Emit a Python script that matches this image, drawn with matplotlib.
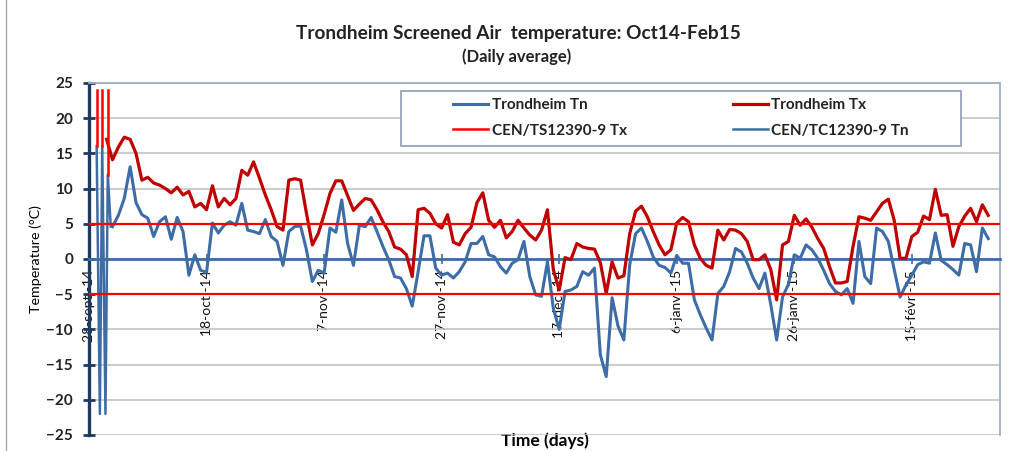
import numpy as np
import matplotlib
matplotlib.use('Agg')
import matplotlib.pyplot as plt
from matplotlib.patches import Rectangle

plt.rcParams['font.family'] = ['Lato', 'DejaVu Sans']

# days counted from 28 Sep 2014
tx_start = 3
tx_values = [17.0, 14.1, 15.9, 17.3, 17.0, 15.0, 11.2, 11.6, 10.8, 10.5,
             10.0, 9.4, 10.2, 9.1, 9.6, 7.4, 7.9, 7.0, 10.4, 7.4,
             8.6, 7.7, 8.6, 12.6, 11.9, 13.8, 11.5, 9.1, 7.0, 4.6,
             4.1, 11.2, 11.4, 11.2, 6.5, 2.0, 3.6, 6.3, 9.3, 11.1,
             11.1, 9.0, 6.9, 7.8, 8.6, 8.4, 7.0, 5.3, 3.9, 1.7,
             1.4, 0.6, -2.5, 7.0, 7.2, 6.5, 5.0, 4.4, 6.3, 2.4,
             2.0, 3.6, 4.5, 8.0, 9.4, 5.5, 4.5, 5.5, 3.0, 3.9,
             5.5, 4.4, 3.4, 2.7, 4.1, 7.0, -1.5, -4.4, 0.2, -0.1,
             2.2, 1.7, 1.5, 1.4, -0.5, -4.9, -0.4, -2.7, -2.4, 3.6,
             6.8, 7.5, 6.0, 3.9, 2.0, 0.6, 1.3, 5.1, 5.9, 5.3,
             2.0, 0.1, -0.9, -1.3, 4.1, 2.7, 4.2, 4.1, 3.6, 2.5,
             -0.1, -0.1, 0.6, -1.5, -5.8, 2.0, 2.5, 6.2, 4.8, 5.7,
             4.5, 2.9, 1.5, -1.1, -3.4, -3.4, -3.2, 1.8, 6.0, 5.8,
             5.5, 6.7, 7.9, 8.5, 5.5, 0.1, 0.1, 3.2, 3.8, 6.1,
             5.6, 9.9, 6.2, 6.3, 1.8, 4.6, 6.1, 7.2, 5.3, 7.7,
             6.2]

tn_start = 4
tn_values = [4.6, 6.2, 8.6, 13.1, 8.0, 6.3, 5.8, 3.2, 5.3, 6.0,
             2.8, 5.9, 3.9, -2.3, 0.6, -1.6, -1.9, 5.1, 3.7, 4.8,
             5.3, 4.8, 7.9, 4.1, 3.9, 3.6, 5.6, 3.2, 2.5, -0.9,
             3.9, 4.6, 4.7, 1.3, -3.2, -1.6, -2.0, 4.4, 3.8, 8.4,
             2.2, -0.9, 4.8, 4.6, 5.9, 3.9, 1.8, -0.1, -2.5, -2.7,
             -4.2, -6.7, -1.8, 3.3, 3.3, -1.3, -2.3, -2.0, -2.7, -1.8,
             -0.4, 2.2, 2.2, 3.2, 0.6, 0.3, -1.1, -2.0, -0.6, -0.1,
             2.5, -2.5, -5.1, -5.3, -0.4, -7.0, -10.0, -4.6, -4.4, -3.9,
             -1.8, -2.3, -1.3, -13.6, -16.7, -5.5, -9.5, -11.5, -0.8, 3.6,
             4.4, 2.5, 0.3, -0.9, -1.2, -2.0, 0.5, -0.6, -0.6, -5.8,
             -7.9, -9.8, -11.5, -4.9, -3.9, -1.8, 1.5, 1.0, -0.6, -2.7,
             -4.2, -2.0, -6.5, -11.5, -5.4, -3.6, 0.6, 0.1, 2.0, 1.3,
             0.1, -1.6, -3.5, -4.6, -5.1, -4.2, -6.3, 2.5, -2.5, -3.5,
             4.4, 3.9, 2.5, -1.5, -5.4, -3.7, -2.3, -0.8, -0.4, -0.6,
             3.7, -0.2, -0.8, -1.5, -2.3, 2.2, 2.0, -1.8, 4.4, 2.9]

# CEN cycles squeezed into the first days of the date axis
cen_tx_x = [1.3, 1.3, np.nan, 2.25, 2.25, np.nan, 3.2, 3.2]
cen_tx_y = [24, 16, np.nan, 24, 16, np.nan, 24, 12]
cen_tn_x = [1.3, 1.85, 2.25, 2.8, 3.2, 3.7]
cen_tn_y = [16, -22, 16, -22, 12, 4.6]
cen_tx_limits = [5, -5]

tick_days = [0, 20, 40, 60, 80, 100, 120, 140]
tick_labels = ['28-sept -14', '18-oct -14', '7-nov -14', '27-nov -14',
               '17-déc -14', '6-janv -15', '26-janv -15', '15-févr -15']

blue = '#3d6ca6'
dark_red = '#c00000'
red = '#ff0000'
navy = '#1f3a5f'

W, H = 1025, 451
fig = plt.figure(figsize=(W / 100, H / 100), dpi=100)
ax = fig.add_axes([89 / W, 1 - 435 / H, (1000 - 89) / W, (435 - 83) / H])

tx_days = np.arange(tx_start, tx_start + len(tx_values))
tn_days = np.arange(tn_start, tn_start + len(tn_values))

ln_tn, = ax.plot(tn_days, tn_values, color=blue, lw=2.2, zorder=3)
ln_tx, = ax.plot(tx_days, tx_values, color=dark_red, lw=2.3, zorder=3)
ln_cen_tn, = ax.plot(cen_tn_x, cen_tn_y, color=blue, lw=1.8, zorder=3)
ln_cen_tx, = ax.plot(cen_tx_x, cen_tx_y, color=red, lw=1.8, zorder=3.5)
for lim in cen_tx_limits:
    ax.axhline(lim, color=red, lw=1.6, zorder=4)

ax.set_xlim(0, 155)
ax.set_ylim(-25, 25)
ax.set_yticks(np.arange(-25, 26, 5))
ax.set_xticks(tick_days)
ax.set_xticklabels(tick_labels)
ax.yaxis.grid(True, color='#c3c3c3', lw=1.2)
ax.set_axisbelow(True)

ax.spines['left'].set_color(navy)
ax.spines['left'].set_linewidth(2.4)
ax.spines['bottom'].set_position(('data', 0))
ax.spines['bottom'].set_color(blue)
ax.spines['bottom'].set_linewidth(2.0)
for s in ['top', 'right']:
    ax.spines[s].set_color('#9fb0c8')
    ax.spines[s].set_linewidth(1.3)

ax.tick_params(axis='y', direction='inout', length=9, width=2, color=navy,
               labelsize=11, pad=7, labelcolor='#222222')
ax.tick_params(axis='x', direction='inout', length=6.5, width=1.2, color=blue,
               labelsize=10, pad=4.5, labelcolor='#111111', labelrotation=90)
for lab in ax.get_yticklabels():
    lab.set_fontweight('bold')

ax.set_ylabel('Temperature (°C)', fontsize=10.3, va='center')
ax.yaxis.set_label_coords(-0.059, 0.5)
ax.set_xlabel('Time (days)', fontsize=12.5, fontweight='bold')
ax.xaxis.set_label_coords(0.5, 0.008)

fig.text(518.5 / W, 1 - 33 / H, 'Trondheim Screened Air  temperature: Oct14-Feb15',
         ha='center', va='center', fontsize=13.7, fontweight='bold', color='#222222')
fig.text(517 / W, 1 - 57 / H, '(Daily average)', ha='center', va='center',
         fontsize=12, fontweight='bold', color='#222222')

# legend frame + two centred columns
fig.add_artist(Rectangle((401 / W, 1 - 146 / H), 560 / W, 55 / H, transform=fig.transFigure,
                         facecolor='white', edgecolor='#8c9cb8', lw=1.2, zorder=1))
leg_kw = dict(loc='center', frameon=False, handlelength=2.3, handletextpad=0.2,
              labelspacing=0.75, prop={'size': 11, 'weight': 'bold'},
              bbox_transform=fig.transFigure)
leg1 = fig.legend([ln_tn, ln_cen_tx], ['Trondheim Tn', 'CEN/TS12390-9 Tx'],
                  bbox_to_anchor=(540 / W, 1 - 118 / H), **leg_kw)
leg2 = fig.legend([ln_tx, ln_cen_tn], ['Trondheim Tx', 'CEN/TC12390-9 Tn'],
                  bbox_to_anchor=(821 / W, 1 - 118 / H), **leg_kw)
for leg in (leg1, leg2):
    leg.set_zorder(5)
    for t in leg.get_texts():
        t.set_color('#222222')

# chart area border
fig.add_artist(Rectangle((6 / W, -0.1), 1.2, 1.2, transform=fig.transFigure,
                         fill=False, edgecolor='#a6a6a6', lw=1.0, zorder=0))

fig.savefig('out.png', dpi=100)
